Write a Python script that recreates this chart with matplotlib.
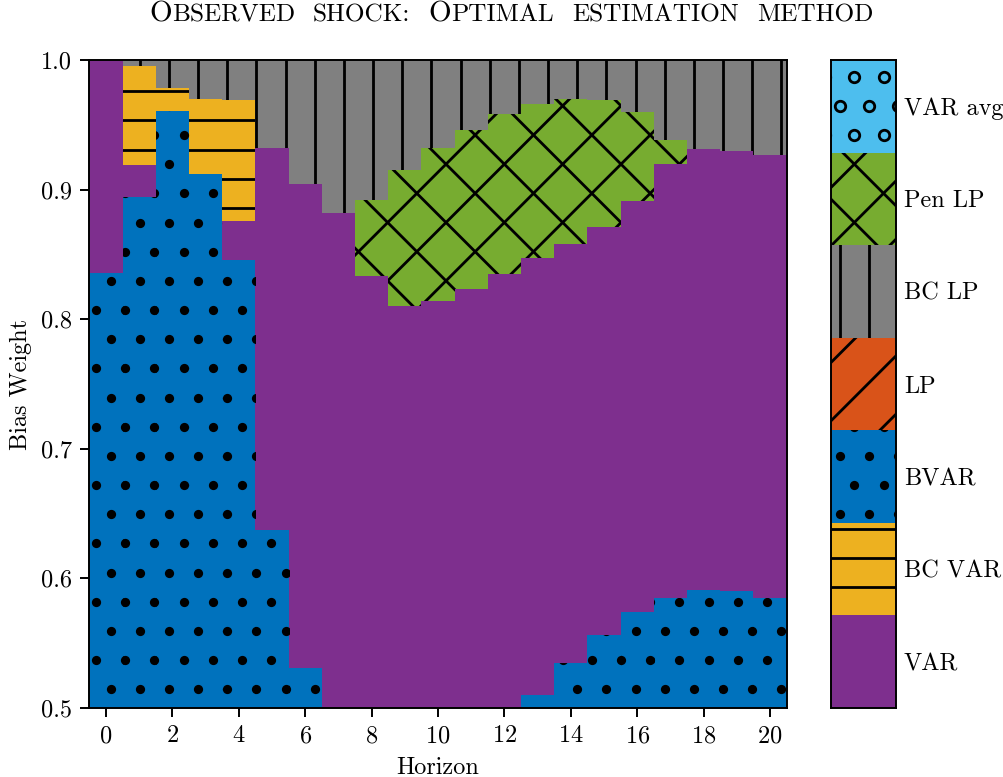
from itertools import groupby

import numpy as np
import matplotlib.pyplot as plt
from matplotlib.collections import LineCollection
from matplotlib.transforms import IdentityTransform

plt.rcParams['font.family'] = 'cmr10'
plt.rcParams['axes.formatter.use_mathtext'] = True
plt.rcParams['font.size'] = 10

horizons = np.arange(21)

methods = ['VAR', 'BC VAR', 'BVAR', 'LP', 'BC LP', 'Pen LP', 'VAR avg']
colors = ['#7E2F8E', '#EDB120', '#0072BD', '#D95319', '#808080', '#77AC30', '#4DBEEE']
hatches = ['', '-', '.', '/', '|', 'x', 'o']

# upper edge of each method's band per horizon (bands stacked from 0.5 upward)
bvar_top = [0.836, 0.894, 0.961, 0.912, 0.846, 0.637, 0.531, 0.5, 0.5, 0.5, 0.5,
            0.5, 0.5, 0.510, 0.535, 0.556, 0.574, 0.585, 0.591, 0.590, 0.585]
var_top = [1.0, 0.919, 0.961, 0.912, 0.876, 0.932, 0.904, 0.882, 0.833, 0.810, 0.814,
           0.823, 0.835, 0.847, 0.858, 0.871, 0.891, 0.920, 0.931, 0.930, 0.927]
bcvar_top = [1.0, 0.995, 0.978, 0.970, 0.969, 0.932, 0.904, 0.882, 0.833, 0.810, 0.814,
             0.823, 0.835, 0.847, 0.858, 0.871, 0.891, 0.920, 0.931, 0.930, 0.927]
penlp_top = [1.0, 0.995, 0.978, 0.970, 0.969, 0.932, 0.904, 0.882, 0.892, 0.915, 0.932,
             0.946, 0.958, 0.966, 0.970, 0.969, 0.960, 0.938, 0.931, 0.930, 0.927]
bclp_top = [1.0] * 21

stack = [('BVAR', bvar_top), ('VAR', var_top), ('BC VAR', bcvar_top),
         ('Pen LP', penlp_top), ('BC LP', bclp_top)]

DPI = 175
S = DPI / 6             # hatch spacing in pixels
X0, Y0 = 96, 777 - 485  # hatch lattice origin (display pixels)
HLW = 1.15              # hatch line width, points


def draw_hatch(ax, patch, kind):
    # hatch drawn by hand so the spacing is 6 per inch, clipped to the patch
    bb = patch.get_window_extent()
    if not kind or bb.width < 0.5 or bb.height < 0.5:
        return
    u0, u1 = (bb.x0 - X0) / S - 1, (bb.x1 - X0) / S + 1
    v0, v1 = (bb.y0 - Y0) / S - 1, (bb.y1 - Y0) / S + 1
    segs = []
    if kind == '-':
        for v in np.arange(np.floor(v0), np.ceil(v1)) + 0.5:
            segs.append([(u0, v), (u1, v)])
    if kind == '|':
        for u in np.arange(np.floor(u0), np.ceil(u1)) + 0.5:
            segs.append([(u, v0), (u, v1)])
    if kind in ('/', 'x'):
        for c in range(int(np.floor(v0 - u1)) - 1, int(np.ceil(v1 - u0)) + 2):
            if c % 2:
                segs.append([(u0, u0 + c), (u1, u1 + c)])
    if kind == 'x':
        for c in range(int(np.floor(u0 + v0)) - 1, int(np.ceil(u1 + v1)) + 2):
            if c % 2:
                segs.append([(u0, c - u0), (u1, c - u1)])
    if segs:
        segs = [[(X0 + u * S, Y0 + v * S) for u, v in s] for s in segs]
        lc = LineCollection(segs, colors='black', linewidths=HLW,
                            transform=IdentityTransform())
        ax.add_collection(lc, autolim=False)
        lc.set_clip_path(patch)
    if kind in ('.', 'o'):
        xs, ys = [], []
        for v in range(int(np.floor(v0)), int(np.ceil(v1)) + 1):
            shift = 0.5 if v % 2 else 0.0
            for u in np.arange(np.floor(u0), np.ceil(u1) + 1) + shift:
                xs.append(X0 + u * S)
                ys.append(Y0 + v * S)
        if kind == '.':
            ln, = ax.plot(xs, ys, ls='none', marker='o', ms=3.8, mfc='black',
                          mec='black', mew=0, transform=IdentityTransform())
        else:
            ln, = ax.plot(xs, ys, ls='none', marker='o', ms=4.3, mfc='none',
                          mec='black', mew=HLW, transform=IdentityTransform())
        ln.set_clip_path(patch)


fig = plt.figure(figsize=(1003 / DPI, 777 / DPI), dpi=DPI)
ax = fig.add_axes([0.0891, 0.0888, 0.6951, 0.834])
ax.set_xlim(-0.5, 20.5)
ax.set_ylim(0.5, 1.0)

bottom = np.full(len(horizons), 0.5)
for name, top in stack:
    i = methods.index(name)
    top = np.array(top)
    bars = ax.bar(horizons, top - bottom, bottom=bottom, width=1.0,
                  color=colors[i], linewidth=0)
    for p in bars.patches:
        draw_hatch(ax, p, hatches[i])
    bottom = top

ax.set_xlim(-0.5, 20.5)
ax.set_ylim(0.5, 1.0)
ax.set_xticks(range(0, 21, 2))
ax.set_yticks([0.5, 0.6, 0.7, 0.8, 0.9, 1.0],
              ['0.5', '0.6', '0.7', '0.8', '0.9', '1.0'])
ax.set_xlabel('Horizon')
ax.set_ylabel('Bias Weight')

# legend as a hatched colour bar
cax = fig.add_axes([0.8285, 0.0888, 0.0648, 0.834])
cax.set_xlim(-0.5, 0.5)
cax.set_ylim(0, len(methods))
for i in range(len(methods)):
    bars = cax.bar(0, 1, bottom=i, width=1.0, color=colors[i], linewidth=0)
    draw_hatch(cax, bars.patches[0], hatches[i])
cax.set_xlim(-0.5, 0.5)
cax.set_ylim(0, len(methods))
cax.set_xticks([])
cax.yaxis.tick_right()
cax.set_yticks(np.arange(len(methods)) + 0.5, methods)
cax.tick_params(axis='y', length=0, pad=3.2)

# small caps title: capitals full size, lower case as smaller capitals,
# words spread evenly between the title's left and right ends
title = 'Observed shock: Optimal estimation method'
left, right = 149, 873
renderer = fig.canvas.get_renderer()
words = []
for word in title.split():
    runs = []
    for big, run in groupby(word, key=str.isupper):
        t = fig.text(0, 1 - 21 / 777, ''.join(run).upper(),
                     fontsize=12.0 if big else 10.4, va='baseline')
        runs.append((t, t.get_window_extent(renderer).width))
    words.append(runs)
total = sum(w for runs in words for _, w in runs)
gap = (right - left - total) / (len(words) - 1)
x = left
for runs in words:
    for t, w in runs:
        t.set_x(x / 1003)
        x += w
    x += gap

fig.savefig('out.png', dpi=DPI)
